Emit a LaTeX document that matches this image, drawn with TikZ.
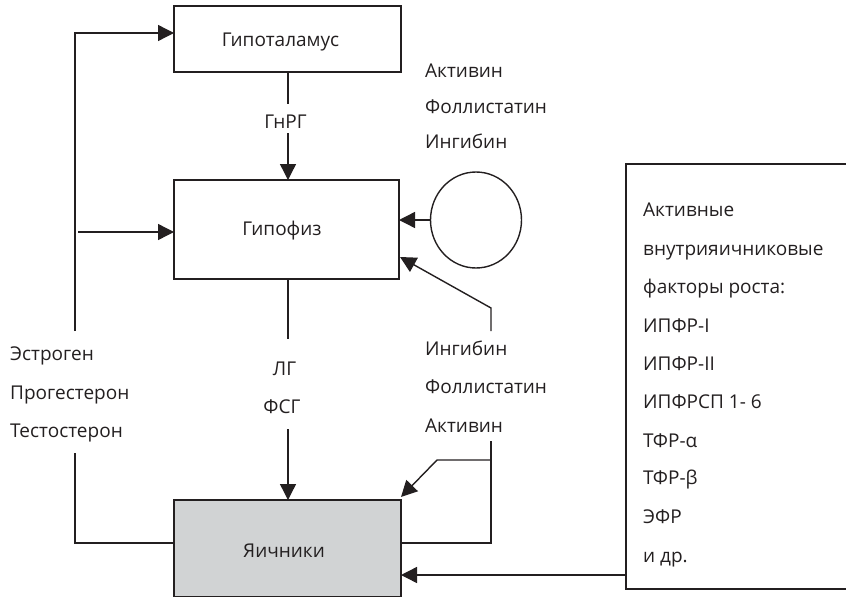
\documentclass[tikz,border=0pt]{standalone}
\usepackage{fontspec}
\setmainfont{Open Sans}
\usetikzlibrary{arrows.meta,shapes.geometric}
\definecolor{ink}{HTML}{231F20}
\definecolor{boxgray}{HTML}{D1D3D4}
\tikzset{
  x=1pt,y=-1pt,
  line/.style={draw=ink,line width=1.4pt},
  arr/.style={line,-{Triangle[length=16pt,width=16pt]}},
  box/.style={line},
  lbl/.style={anchor=base west,inner sep=0pt,font=\fontsize{19}{21}\selectfont,text=ink},
  clbl/.style={anchor=base,inner sep=0pt,font=\fontsize{19}{21}\selectfont,text=ink},
}
\begin{document}
\begin{tikzpicture}
\useasboundingbox (0,0) rectangle (846,597);
% boxes
\draw[box] (174,6) rectangle (401,72);
\node[clbl] (hyp) at (280.5,46.7) {Гипоталамус};
\coordinate (hypB) at (288,72);
\coordinate (hypL) at (174,33);
\draw[box] (174,180) rectangle (399,279);
\node[clbl] (pit) at (282,235) {Гипофиз};
\coordinate (pitT) at (288,180);
\coordinate (pitB) at (288,279);
\coordinate (pitL) at (174,232);
\coordinate (pitR1) at (399,220);
\coordinate (pitR2) at (400,257);
\draw[box,fill=boxgray] (174,500) rectangle (401,597);
\node[clbl] (ov) at (284,557) {Яичники};
\coordinate (ovT) at (288,500);
\coordinate (ovL) at (174,543);
\coordinate (ovR) at (401,543);
\coordinate (ovR2) at (401,575);
\coordinate (ovTR) at (401,497);
% circle
\node[line,ellipse,minimum width=91pt,minimum height=96pt,inner sep=0pt] (circ) at (476,220) {};
\draw[arr] (circ.west) -- (pitR1);
% right box
\draw[line] (846,164) -- (626,164) -- (626,589) -- (846,589);
\coordinate (rbL) at (626,575);
\draw[arr] (rbL) -- (ovR2);
% top middle
\node[clbl] (gnrg) at (285.5,128) {ГнРГ};
\draw[line] (hypB) -- (288,104);
\draw[arr] (288,133) -- (pitT);
% middle lower
\node[clbl] (lg) at (284.5,375) {ЛГ};
\node[clbl] (fsg) at (282,413) {ФСГ};
\draw[line] (pitB) -- (288,339);
\draw[arr] (288,429) -- (ovT);
% top right labels
\node[lbl] (a1) at (425,77) {Активин};
\node[lbl] (f1) at (425,113) {Фоллистатин};
\node[lbl] (i1) at (425,148) {Ингибин};
% lower right labels
\node[lbl] (i2) at (425,355) {Ингибин};
\node[lbl] (f2) at (425,393) {Фоллистатин};
\node[lbl] (a2) at (425,432) {Активин};
\draw[arr] (491,331) -- (491,308) -- (pitR2);
\draw[line] (491,441) -- (491,543) -- (ovR);
\draw[arr] (491,460) -- (437,460) -- (ovTR);
% left labels
\node[lbl] (e) at (10,360) {Эстроген};
\node[lbl] (p) at (10,399) {Прогестерон};
\node[lbl] (t) at (10,437) {Тестостерон};
\draw[arr] (75,331) -- (75,33) -- (hypL);
\draw[arr] (78,232) -- (pitL);
\draw[line] (75,453) -- (75,543) -- (ovL);
% right box text
\node[lbl] at (643,216) {Активные};
\node[lbl] at (643,255) {внутрияичниковые};
\node[lbl] at (643,293) {факторы роста:};
\node[lbl] at (643,332) {ИПФР-I};
\node[lbl] at (643,370) {ИПФР-II};
\node[lbl] at (643,408) {ИПФРСП 1- 6};
\node[lbl] at (643,447) {ТФР-α};
\node[lbl] at (643,484) {ТФР-β};
\node[lbl] at (643,523) {ЭФР};
\node[lbl] at (643,562) {и др.};
\end{tikzpicture}
\end{document}
